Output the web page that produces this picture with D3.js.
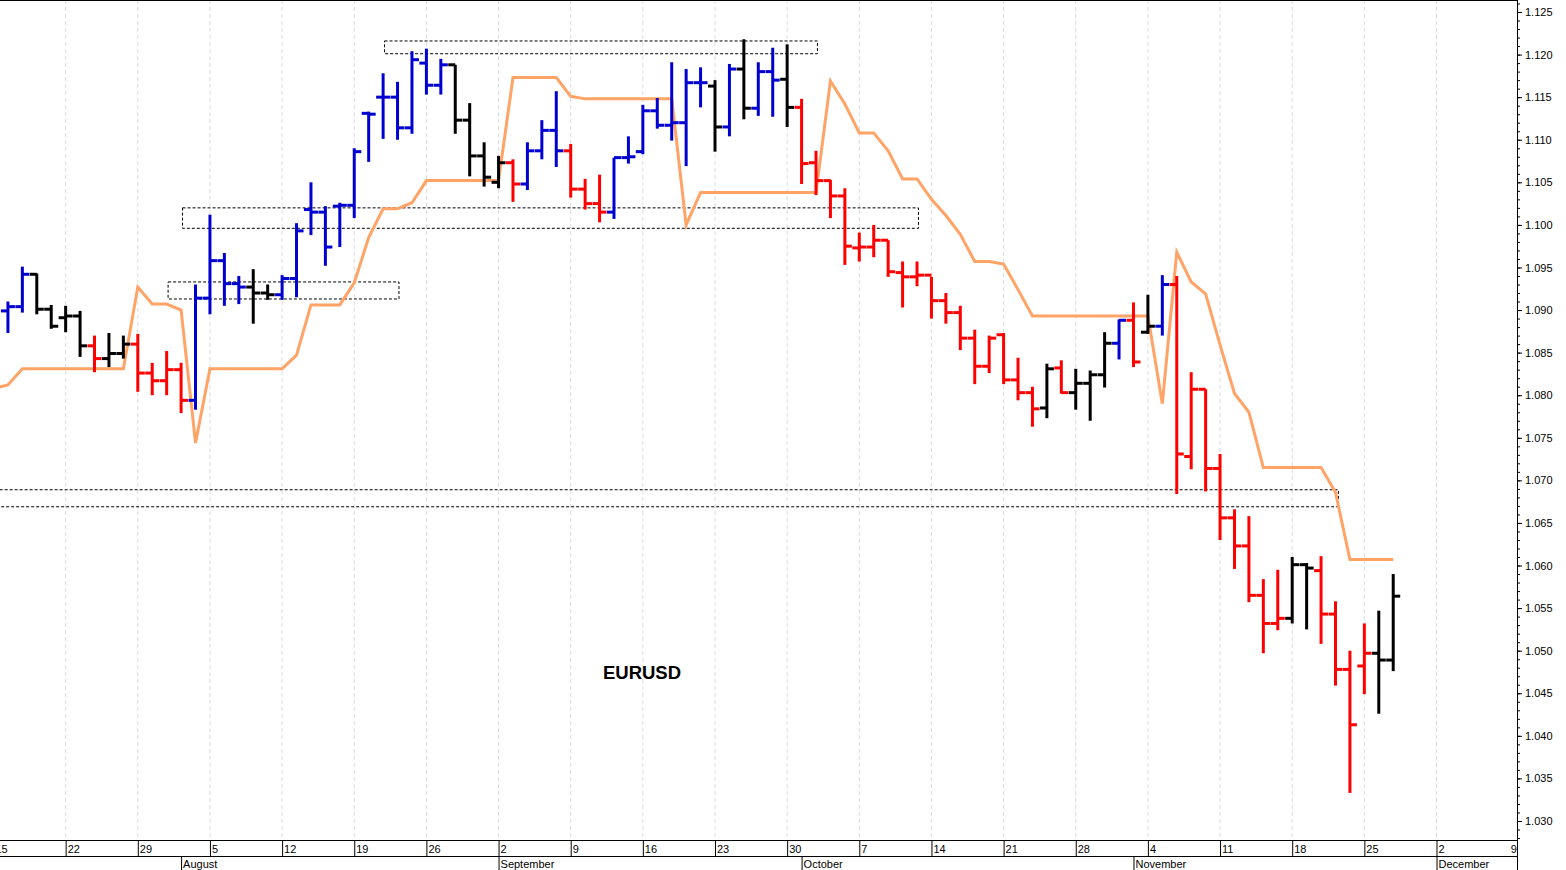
<!DOCTYPE html>
<html>
<head>
<meta charset="utf-8">
<script src="https://cdn.jsdelivr.net/npm/d3@7"></script>
<style>
  body { margin: 0; background: #fff; }
  svg { display: block; font-family: Arial, "Liberation Sans", sans-serif; }
</style>
</head>
<body>
<svg id="chart" width="1566" height="870"></svg>
<script>
// trading days from Mon 15 Jul 2024, bars start on day 1 (16 Jul)
const opens = [1.0899,1.0904,1.0942,1.0901,1.0891,1.0893,1.0858,1.0843,1.0849,1.0860,1.0826,1.0817,1.0830,1.0794,1.0914,1.0958,1.0931,1.0927,1.0920,1.0918,1.0937,1.1018,1.1015,1.1022,1.1023,1.1131,1.1150,1.1150,1.1114,1.1190,1.1164,1.1188,1.1123,1.1081,1.1050,1.1073,1.1048,1.1087,1.1111,1.1087,1.1042,1.1025,1.1015,1.1079,1.1086,1.1134,1.1117,1.1120,1.1167,1.1163,1.1115,1.1183,1.1137,1.1180,1.1171,1.1138,1.1073,1.1052,1.1034,1.0973,1.0974,1.0982,1.0944,1.0939,1.0941,1.0911,1.0897,1.0867,1.0834,1.0871,1.0818,1.0803,1.0785,1.0832,1.0803,1.0814,1.0824,1.0861,1.0888,1.0874,1.0881,1.0930,1.0728,1.0807,1.0714,1.0656,1.0623,1.0565,1.0532,1.0538,1.0601,1.0594,1.0543,1.0478,1.0482,1.0497,1.0489]
const highs = [1.0910,1.0951,1.0943,1.0906,1.0905,1.0899,1.0870,1.0873,1.0870,1.0872,1.0838,1.0852,1.0838,1.0930,1.1012,1.0967,1.0940,1.0948,1.0930,1.0941,1.1002,1.1050,1.1022,1.1026,1.1090,1.1133,1.1178,1.1168,1.1204,1.1207,1.1195,1.1188,1.1143,1.1097,1.1081,1.1077,1.1097,1.1123,1.1157,1.1095,1.1054,1.1059,1.1079,1.1104,1.1141,1.1149,1.1191,1.1183,1.1185,1.1170,1.1189,1.1218,1.1191,1.1208,1.1212,1.1148,1.1087,1.1053,1.1043,1.0991,1.1000,1.0982,1.0957,1.0957,1.0939,1.0920,1.0905,1.0877,1.0870,1.0873,1.0844,1.0810,1.0837,1.0841,1.0831,1.0829,1.0874,1.0889,1.0909,1.0918,1.0941,1.0940,1.0827,1.0807,1.0731,1.0666,1.0658,1.0584,1.0595,1.0610,1.0603,1.0611,1.0558,1.0500,1.0532,1.0547,1.0590]
const lows = [1.0873,1.0897,1.0895,1.0878,1.0874,1.0845,1.0827,1.0833,1.0843,1.0804,1.0800,1.0800,1.0779,1.0783,1.0895,1.0905,1.0907,1.0884,1.0912,1.0912,1.0915,1.0988,1.0952,1.0974,1.1008,1.1074,1.1101,1.1100,1.1107,1.1153,1.1153,1.1107,1.1057,1.1045,1.1043,1.1027,1.1041,1.1077,1.1068,1.1032,1.1018,1.1003,1.1007,1.1072,1.1083,1.1113,1.1099,1.1069,1.1138,1.1086,1.1104,1.1124,1.1128,1.1127,1.1115,1.1048,1.1035,1.1008,1.0953,1.0957,1.0962,1.0939,1.0903,1.0928,1.0890,1.0884,1.0853,1.0813,1.0826,1.0813,1.0794,1.0763,1.0773,1.0802,1.0783,1.0770,1.0809,1.0842,1.0833,1.0872,1.0870,1.0684,1.0713,1.0687,1.0630,1.0596,1.0557,1.0497,1.0524,1.0532,1.0525,1.0508,1.0459,1.0333,1.0449,1.0426,1.0476]
const closes = [1.0904,1.0942,1.0901,1.0881,1.0893,1.0858,1.0843,1.0849,1.0860,1.0826,1.0817,1.0830,1.0794,1.0914,1.0958,1.0931,1.0927,1.0920,1.0918,1.0937,1.0993,1.1015,1.0974,1.1023,1.1086,1.1130,1.1150,1.1114,1.1194,1.1164,1.1188,1.1123,1.1081,1.1056,1.1073,1.1048,1.1087,1.1111,1.1087,1.1042,1.1025,1.1015,1.1079,1.1080,1.1134,1.1117,1.1120,1.1167,1.1167,1.1115,1.1183,1.1137,1.1180,1.1170,1.1138,1.1072,1.1052,1.1034,1.0975,1.0974,1.0982,1.0945,1.0939,1.0941,1.0911,1.0897,1.0867,1.0834,1.0867,1.0818,1.0803,1.0784,1.0831,1.0803,1.0814,1.0824,1.0861,1.0888,1.0839,1.0881,1.0930,1.0731,1.0807,1.0714,1.0656,1.0623,1.0565,1.0532,1.0538,1.0601,1.0597,1.0543,1.0478,1.0413,1.0497,1.0489,1.0564]
// trend state per bar: u = blue, d = red, n = black
const states = [
  "uu", "nnnn", "d", "nn", "dddd", "uuuu", "nn", "uuuuuuuuuuuu", "nnnn", "d", "uuu", "ddd",
  "uuuuuuu", "n", "u", "n", "uu", "n", "ddddddddddddddddd", "n", "d", "nnn", "u", "d", "n", "u",
  "dddddddd", "nn", "dddd", "nn"
].join("")

// orange stop line, one value per trading day from 15 Jul
const stopLine = [1.0808,1.0812,1.0831,1.0831,1.0831,1.0831,1.0831,1.0831,1.0831,1.0831,1.0927,1.0907,1.0907,1.0900,1.0744,1.0831,1.0831,1.0831,1.0831,1.0831,1.0831,1.0847,1.0906,1.0906,1.0906,1.0932,1.0985,1.1019,1.1019,1.1026,1.1052,1.1052,1.1052,1.1052,1.1052,1.1052,1.1173,1.1173,1.1173,1.1173,1.1151,1.1148,1.1148,1.1148,1.1148,1.1148,1.1148,1.1148,1.1000,1.1038,1.1038,1.1038,1.1038,1.1038,1.1038,1.1038,1.1038,1.1038,1.1169,1.1142,1.1108,1.1108,1.1087,1.1054,1.1054,1.1030,1.1011,1.0989,1.0957,1.0957,1.0954,1.0924,1.0893,1.0893,1.0893,1.0893,1.0893,1.0893,1.0893,1.0893,1.0893,1.0790,1.0968,1.0933,1.0919,1.0859,1.0802,1.0780,1.0715,1.0715,1.0715,1.0715,1.0715,1.0686,1.0607,1.0607,1.0607,1.0607]

// dashed zones: start day, end day, top, bottom
const zoneFrom = [12.1, 13.1, 27.1, -2]
const zoneTo = [28.1, 64.1, 57.1, 93.2]
const zoneTop = [1.0933, 1.1020, 1.1216, 1.0689]
const zoneBottom = [1.0913, 1.0996, 1.1201, 1.0669]

const weekLabels = ["15","22","29","5","12","19","26","2","9","16","23","30","7","14","21","28","4","11","18","25","2","9"]
const monthNames = ["August","September","October","November","December"]
const monthDays = [13, 35, 56, 79, 100]
const yTicks = d3.range(1.030, 1.1251, 0.005)

const W = 1566, H = 870, plotR = 1517, plotB = 840
const svg = d3.select("#chart")

const x = d3.scaleLinear().domain([0, 100]).range([-6.5, 1436.5])
const y = d3.scaleLinear().domain([1.030, 1.125]).range([821, 12])
const colour = { u: "#0000d0", d: "#ff0000", n: "#000000" }

const plot = svg.append("g")
svg.append("clipPath").attr("id", "clip").append("rect")
  .attr("width", plotR).attr("height", plotB)
plot.attr("clip-path", "url(#clip)")

// weekly grid
const weekDays = d3.range(0, 105, 5)
plot.selectAll(".grid").data(weekDays).join("line")
  .attr("x1", d => x(d)).attr("x2", d => x(d))
  .attr("y1", 0).attr("y2", plotB)
  .attr("stroke", "#dcdcdc").attr("stroke-dasharray", "4,3")

// zones
plot.selectAll(".zone").data(zoneFrom).join("rect")
  .attr("x", (d, i) => x(d)).attr("width", (d, i) => x(zoneTo[i]) - x(d))
  .attr("y", (d, i) => y(zoneTop[i])).attr("height", (d, i) => y(zoneBottom[i]) - y(zoneTop[i]))
  .attr("fill", "none").attr("stroke", "#000").attr("stroke-width", 1)
  .attr("stroke-dasharray", "3,2")

// stop line
plot.append("path").datum(stopLine)
  .attr("d", d3.line().x((d, i) => x(i)).y(d => y(d)))
  .attr("fill", "none").attr("stroke", "#ffa366").attr("stroke-width", 3)

// ohlc bars
const bars = plot.selectAll(".bar").data(opens).join("g")
  .attr("stroke", (d, i) => colour[states[i]]).attr("stroke-width", 3)
bars.append("line")
  .attr("x1", (d, i) => x(i + 1)).attr("x2", (d, i) => x(i + 1))
  .attr("y1", (d, i) => y(highs[i])).attr("y2", (d, i) => y(lows[i]))
bars.append("line")
  .attr("x1", (d, i) => x(i + 1) - 7).attr("x2", (d, i) => x(i + 1))
  .attr("y1", d => y(d)).attr("y2", d => y(d))
bars.append("line")
  .attr("x1", (d, i) => x(i + 1)).attr("x2", (d, i) => x(i + 1) + 7)
  .attr("y1", (d, i) => y(closes[i])).attr("y2", (d, i) => y(closes[i]))

svg.append("text").attr("x", 642).attr("y", 679).attr("text-anchor", "middle")
  .attr("font-size", 18.5).attr("font-weight", "bold").text("EURUSD")

// frame
svg.append("line").attr("x1", plotR + 0.5).attr("x2", plotR + 0.5).attr("y1", 0).attr("y2", H).attr("stroke", "#000")
svg.append("line").attr("x1", 0).attr("x2", plotR).attr("y1", plotB + 0.5).attr("y2", plotB + 0.5).attr("stroke", "#000")
svg.append("line").attr("x1", 0).attr("x2", plotR).attr("y1", 856.5).attr("y2", 856.5).attr("stroke", "#000")
svg.append("line").attr("x1", 0).attr("x2", plotR).attr("y1", 0.5).attr("y2", 0.5).attr("stroke", "#000")

// right axis
const yAxis = d3.axisRight(y).tickValues(yTicks).tickFormat(d3.format(".3f")).tickSize(5)
svg.append("g").attr("transform", `translate(${plotR},0)`).call(yAxis)
  .call(g => g.select(".domain").remove())
  .call(g => g.selectAll("text").attr("x", 8).attr("font-size", 11).attr("font-family", "Arial, 'Liberation Sans'"))
svg.append("g").attr("transform", `translate(${plotR},0)`)
  .call(d3.axisRight(y).tickValues(d3.range(1.028, 1.127, 0.001)).tickFormat("").tickSize(3))
  .call(g => g.select(".domain").remove())

// bottom axis
const bottom = svg.append("g")
bottom.selectAll(".wk").data(weekDays).join("line")
  .attr("x1", d => x(d) + 0.5).attr("x2", d => x(d) + 0.5)
  .attr("y1", plotB).attr("y2", 856).attr("stroke", "#000")
bottom.selectAll(".wl").data(weekLabels).join("text")
  .attr("x", (d, i) => x(i * 5) + 2).attr("y", 853)
  .attr("font-size", 11).text(d => d)
bottom.selectAll(".ms").data(monthDays).join("line")
  .attr("x1", d => x(d) + 0.5).attr("x2", d => x(d) + 0.5)
  .attr("y1", 856).attr("y2", H).attr("stroke", "#000")
bottom.selectAll(".ml").data(monthNames).join("text")
  .attr("x", (d, i) => x(monthDays[i]) + 2).attr("y", 868)
  .attr("font-size", 11).text(d => d)
</script>
</body>
</html>
